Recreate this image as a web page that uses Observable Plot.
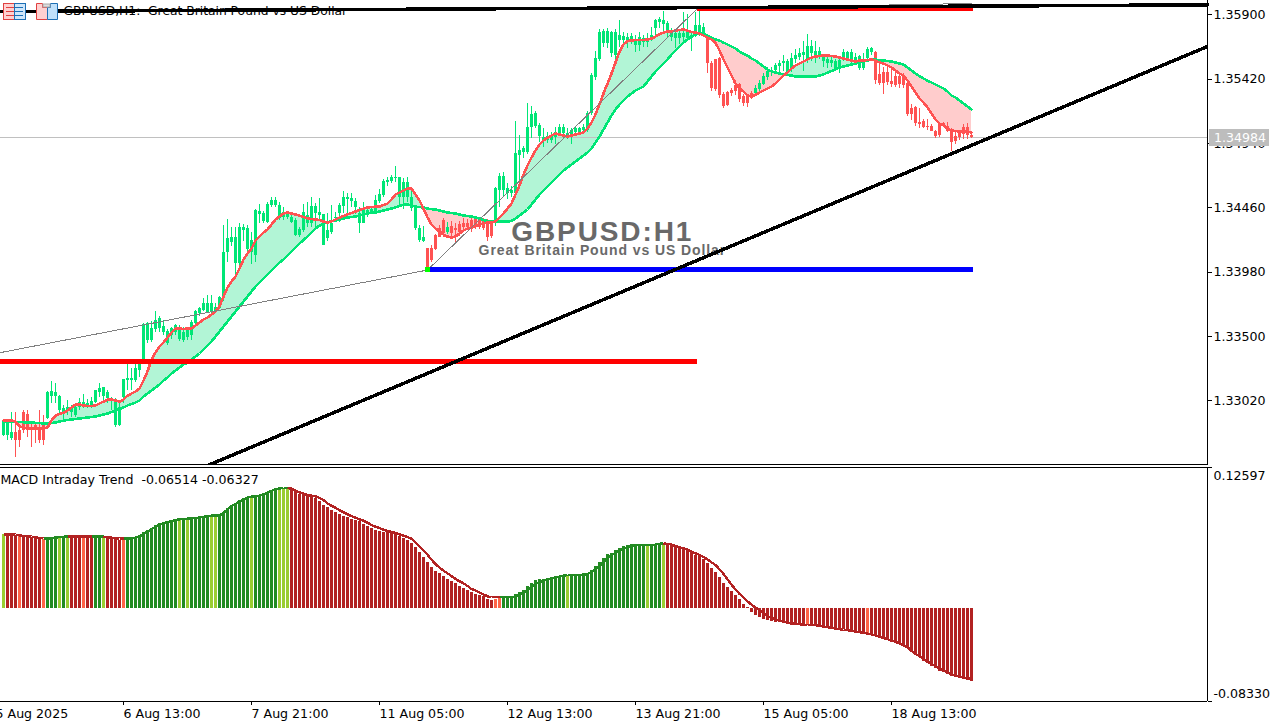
<!DOCTYPE html>
<html><head><meta charset="utf-8">
<script src="https://cdn.jsdelivr.net/npm/d3@7"></script>
<script src="https://cdn.jsdelivr.net/npm/@observablehq/plot@0.6"></script>
<style>
html,body{margin:0;padding:0;background:#fff;overflow:hidden}
#wrap{position:relative;width:1282px;height:721px}
#wrap svg{display:block;shape-rendering:crispEdges}
#wrap text{white-space:pre}
.wm1 text{letter-spacing:1.9px}
.wm2 text{letter-spacing:.9px}
#icons{position:absolute;left:0;top:0}
</style></head><body><div id="wrap"></div>
<script>
// prices are stored as pips above 1.3000
const openPips=[276,276,274,278.5,280,293,292,282,283.5,282,
286,289,305,305,295,292,295,293.5,291,297,
298,298,298.4,300.4,308.4,305.2,303.4,302.2,283.5,283.5,
304.7,317,317,317,324.6,332.5,347,347,355,355.7,
353.2,344.5,350.7,353.2,347.5,347,349.4,350.7,359.4,366.9,
369.4,368.1,368.1,368.1,370.6,379.3,412.9,420.4,404.2,404.2,
429,415,413,410.4,441,436.1,435.3,447.8,447.8,437.8,
439,439,435.3,425.4,425.4,429.1,434.6,434.6,441.6,440.3,
418,422.9,427.9,437.8,441.6,447,452.3,450.8,446.5,434.6,
434.6,441.6,442.3,442.8,450.8,455.2,465.2,465.7,468.2,454,
454,454,445.3,430.4,421.6,421,415.4,415.4,425.4,430.9,
436.6,428,432.4,430.9,433.6,434.6,434.6,436.6,437.8,437.8,
436.6,435.3,434.6,436.6,459,459,456.5,456.5,456.5,485.1,
487.6,487.6,506.3,506.8,499.3,496.3,496.3,496.3,498.8,501.3,
501.8,498.8,500,502.5,502.5,503.8,503.8,516.2,543.6,556.5,
568.5,568.5,561,559.7,571,571,570.4,570.4,567.2,567.2,
569.7,569.7,572.2,579.7,584.6,582.9,577.2,573.4,572.2,572.2,
572.9,572.2,572.2,574.7,575.9,574.7,573.4,553.5,556.5,557.3,
530.4,532.4,533.6,537.4,537.9,529.4,529.4,531.1,531.1,534.1,
538.1,543,547.3,548.6,551.5,553.5,547.3,549.8,556.5,558.5,
559.7,556,561,558.5,559.7,555.5,553.5,554,549.8,549.8,
557.3,557.3,554.8,555.5,549.8,549.8,557.3,562.2,562.2,545.6,
547.3,547.3,540.3,544,544,544.8,538.6,519.9,520.7,510,
510.5,506.8,506.8,503.3,508.2,508.7,506.8,503.3,499.3,501.3,
506.3,505.8,500];
const closePips=[286,286,278.5,272.3,272.3,279.8,281,281,280.3,272.3,
272.3,308.4,309.1,307.9,305.4,296,297.2,296,297.2,300.4,
300.9,299.7,301.4,309.6,311.4,312.1,308.4,303.4,302.2,297.2,
317.6,318.4,318.8,325.8,329,358.9,359.4,355.7,361.9,363.1,
357.4,353.7,355.7,358.2,354.4,353.2,354.4,360.6,368.6,370.6,
374.3,374.3,374.3,371.8,379.3,412.9,423,423.7,423.7,431.1,
431.1,430.4,422,444,443.6,441.6,448.5,451.5,451.5,447.8,
442.8,441.6,439,436.6,429.6,442.3,440.3,447,447,442.3,
440.8,429.1,434.1,439,447.8,454,454,452.8,450.8,441.6,
444,444,444.6,451.5,456,465.7,466.4,468.4,468.9,468.4,
465,465,454,446.5,430.4,423.7,400.5,406.7,414.7,424.2,
426.6,431,427.1,429.1,427.9,431.6,431.6,430.4,431.6,431.6,
430.4,424.2,424.6,460.2,469.4,469.4,460.2,459,486.4,488.8,
490,506.3,515.7,516.2,507.5,498.8,499.3,500,502.5,505.8,
505.8,501.3,503.8,505,505,506.3,516.2,544.8,557.3,577.2,
577.9,577.9,577.2,577.2,574.7,574,573.4,574,570.9,573.4,
572.2,572.2,574.7,585.9,586.6,585.9,583.4,575.9,575.9,575.9,
575.9,577.2,574.7,582.1,582.1,580.9,553.5,534.9,534.1,529.9,
521.7,522.4,531.1,533.1,526.9,523.7,523.7,528.6,534.9,538.6,
544,548,548,552.3,554,555.5,555.5,557.3,559.7,561,
562.2,566.5,566.5,563,563,558,556.5,556,555.3,556,
562.2,562.2,562.2,558,559,556,564,564.7,541,538.6,
538.6,539.3,538.1,537.4,537.9,537.4,515.7,515.7,508.7,508.2,
505.8,505.8,503.3,499.3,499.8,507.5,503.3,495,495.8,498.3,
500.8,500,498.4];
const highPips=[287,287,293.5,293.5,281,295,294.7,286,286,294.7,
291,309,316.4,315,306,298.4,302.2,298.4,299.7,303.4,
306.4,302.7,304.7,310,314.6,312.1,309.6,304.7,303.4,300,
318,329,325.8,329,332,359.5,360.5,361,368.6,364.9,
361.9,355,357,359,358,357,356.4,361.9,369.4,371.8,
378,380.5,380.5,374.3,379.8,432.9,437.3,431.6,431.6,434.6,
433.6,432.9,428,445,448.5,443.6,450.2,453.5,454,450.2,
446.5,443,440.3,437.8,431.6,448.5,450.2,453.5,449,452.8,
441,441.6,447.8,442.8,449,458.5,457,456.5,452.8,446.5,
450.2,447,447,455,459.7,467,469,470,476.9,469,
467.7,469,458,447,433,432,416,418,426,433,
438,435,436,434,436,438,437,438,439,439,
438,437,436,461,471.4,472.7,464,462,510.7,500,
492,523.7,521.7,518,509,505,502,502,506,508,
508,505,505,506,506,508,518,546,563,579,
579,580,578,579,585.8,577,576,576,575,577,
575,576,581,587,588,592.3,585,580,578,579,
592,590,578,592,593,584,573.4,555,557,558,
532,533,535,541,539,531,531,533,537,541,
546,551,551,554,556,560,557,561,564,565,
570,575.4,571,570,566,560,558,558,557,558,
564,563,564,561,560,561,566,566,563,555,
551,552,549,547,546,546,540,523,522,520,
512,512,508,504,509,510,510,505,503,504,
508,509,503];
const lowPips=[275,272,272.3,259.4,266.8,277.3,274.8,267.4,269.8,269.8,
268.6,288,300,299.7,292,287.2,291,289.7,289.7,294.7,
296,296,296,299.7,304.7,302.2,299.7,294.7,281.8,283,
300,310,309.6,316,319.6,329,345,345.5,353,353,
350.7,343,348,350.7,346.2,345.7,347,347,358.4,364.9,
368.6,366.9,366,366.9,370,376,405,417,393,400,
421,410,404,405,434,434,434,446,446,436.6,
436.6,437.3,434,424.6,423.7,427.6,431,431.6,431.6,436.6,
418,421,426,436.6,435,441.6,441.6,446,441,427,
434,439,441,441.6,449,454,462,464,465,447,
445,450,443,429,420,420,398,405,414,424,
424,426,425,420.4,425,428,429,428,430,430,
429,421,423,432,446.5,454,452,454,456,461,
483,486,498,505,495,491,494,493.8,493,499,
497,497,493.3,500,501,502,502,515,541,555,
566,565,558,553,566,568,565,568,562,563,
566,566,570,573,580,578,573,570,565,568,
570,570,563,573,574,573,546.5,533,533,528,
520,522,529,530,525,522,521,527,530,532,
537,541,544,546,545,548,546,547,554,556,
548,554,555,554,557,551,550,551,547.5,546,
555,556,552,553,548.5,548.5,556,560,538,537,
531,537,536,535.6,535,535,514,511,507,505,
505,504,503,498,498.5,506,502,488,493,496,
497,497,498];
const fastPips=[287.3,287.3,287.3,286.5,282.8,282,281.3,281.3,281.3,281.3,
281.3,282,287.3,291,292.1,293.2,294.7,297,299.2,299.2,
298.5,298.1,298.1,298.5,300,301.4,302.9,302.9,302.2,301.4,
302.9,305.9,307.4,308.9,311.2,317.1,323.8,332.8,338,342.5,
345.5,349.2,353,356,356,355.6,356,356,358.2,360.4,
362.7,364.2,366.4,368.6,372.4,379.8,386.6,391,394.8,400.7,
407.5,412,415.7,421.6,424.6,427.6,429.8,433.6,437.3,439.6,
441.8,442.6,441.8,441.1,440.3,439.2,438.1,437.7,437.3,437,
435.8,435.1,435.8,437.3,438.8,439.9,441.1,442.2,443.3,444.4,
445.5,446.3,446.6,447,447,448.1,449.2,452.2,456,457.5,
459,460.5,460.5,456,451.5,445.5,438.8,433.6,430.6,428.4,
426.1,424.6,423.9,424.6,426.9,429.1,430.6,431.3,432.1,433.6,
434.3,435.1,435.4,435.8,438.8,441.8,445.5,449.2,456,462.7,
470.9,477.6,483.6,488.8,493.3,496.3,498.5,500,501.5,500.8,
500,499.3,500,500.8,501.5,502.3,505.2,509.7,515.7,523.2,
531.4,538.8,546.3,554.5,562.7,568,570.6,571,571.3,571.3,
571.3,571.7,572.4,573.9,575.8,576.9,577.7,577.7,578.4,578.8,
579.2,578.4,577.3,576.9,576.2,574.7,573.2,571.7,569.4,563.5,
556.8,550.8,544.8,538.8,535.1,532.9,529.9,529.1,530.3,532.1,
533.6,535.1,536.6,538.8,541.8,544.8,547,550,552.3,553.8,
555.3,556.8,558.3,559,559.4,559.7,559.7,559.4,559,558.3,
557.5,556.8,556,555.3,556,556,556.4,556.8,556,554.5,
553.8,552.3,550.8,548.5,546.3,544.8,541,536.6,532.1,527.6,
524.7,520.9,516.4,512,509,507.5,505.2,503.8,503.4,503,
503,503,502.3];
const slowPips=[286.5,286.5,286.5,286.3,286.2,286,286,285.8,285.5,285.4,
285.1,285,285.4,285.8,286.5,287.2,287.7,288,288.4,288.8,
289.1,289.5,289.9,290.2,291,291.7,292.5,293.6,294.7,295.9,
297,298.5,299.6,300.7,302.2,305.2,307.4,309.7,311.9,314.1,
317.1,319.4,322.4,324.6,326.8,329.1,330.2,332.8,335,337.3,
340.3,343.3,346.2,350,353.7,357.4,361.2,364.9,368.6,372.4,
376.1,379.8,383.6,387.3,390.3,393.3,396.3,399.2,402.2,405.2,
407.5,410.4,413.4,416.4,419.4,422,424.6,427.6,430.6,432.8,
434.3,435.1,436.2,436.6,437.3,438.1,438.8,439.2,439.6,440.3,
441.1,441.8,442.6,442.6,443.3,444,444.8,445.5,446.3,447.4,
448.5,448.5,447.8,447,446.6,446.3,445.5,445.1,444.8,444,
443.3,442.6,442.2,441.8,441.1,440.3,439.9,439.6,438.8,438.1,
437,436.2,435.8,435.8,435.8,435.8,435.8,436.2,438.1,440.3,
442.6,444.8,448.5,452.2,456,459,462,465,467.9,470.9,
473.9,476.1,478.4,480.6,482.9,485.1,487.3,490.3,494.8,499.3,
504.5,509.7,515,519.4,523.2,526.2,529.1,531.4,533.6,535.1,
536.6,540.3,544.1,547.8,550.8,553.8,556.8,560.5,563.5,566.5,
569.4,571.7,573.9,575.4,576.2,575.8,574.7,573.2,571.7,571,
569.4,568,566.5,565,562.7,561.2,559.7,557.5,556,553.8,
551.5,549.3,547.8,547,546.3,545.6,545.2,544.8,544.1,544.1,
544.1,544.1,544.1,544.1,544.8,545.6,547,548.2,549.3,550.8,
551.5,552.3,553,553.8,554.5,555.3,556,556.8,556.8,556,
556,555.6,555.3,554.5,553.8,553,550.8,548.5,546.3,544.4,
542.6,541,539.6,538.1,536.6,535.1,532.9,529.9,528.4,526.2,
523.9,521.7,519.4];
// MACD histogram and signal, in thousandths
const macdValues=[65.9,65.9,65.9,65,64.1,64.1,64.1,63.2,62.6,62,
62,62.6,63.2,64.1,64.4,64.1,64.1,64.1,64.1,64.1,
64.1,64.1,64.1,64.1,64.1,64.1,63.5,62.6,61.4,61.1,
62.3,62.9,62.9,63.8,65,68,69.5,71.6,74,75.7,
76.3,77.5,78.4,79.3,79.9,79.9,79.9,80.8,80.8,81.4,
82,82.9,82.9,82.9,82.9,85.9,89.5,92.4,93.3,96.3,
97.8,99.3,99.9,98.7,100.8,102.3,103.8,105.5,106.7,107.3,
107.3,107.3,106.1,104.4,101.4,100.8,100.2,99.6,97.8,95.4,
92.4,90.4,87.3,85.6,83.7,82.4,81,79.7,78.4,77.5,
75.4,73,71,69.5,68.6,68,67.7,67.1,66.5,64.1,
62.9,60.5,58.1,54.6,50.1,45.6,41.2,36.7,33.1,31.3,
28.3,25.7,23.9,21.8,19.7,17.9,15.8,14.3,12.8,11.6,
10.5,8.1,7.2,8.1,9,9.9,9.9,9.9,12.2,14,
15.8,19.4,21.8,24.8,25.7,26.2,27.1,27.1,27.7,28.6,
29.8,29.8,29.8,29.8,29.8,30.7,30.7,33.7,37.3,40.9,
44.4,48,49.5,51.6,53.1,55.2,56.1,56.9,56.9,57.5,
57.2,56.9,56.9,56.9,58.1,58.1,57.6,56.4,55.2,54,
52.2,51,49.2,47.7,46.3,43.3,40.3,35.8,32.2,27.8,
22.4,18.8,15.3,11.4,7.5,3.3,0.4,-3.5,-6.5,-8.6,
-10.4,-11,-11.6,-12.5,-12.5,-13.3,-13.9,-15.4,-15.4,-15.4,
-14.8,-14.8,-14.8,-14.8,-15.4,-16.9,-17.5,-17.8,-19,-19.9,
-19.3,-19.9,-20.8,-21.7,-22.9,-22.9,-22.3,-22.9,-24.4,-25.9,
-26.8,-28.2,-30.3,-31.8,-32.4,-33.3,-35.4,-39.3,-42.3,-44.3,
-47.3,-49.7,-52.1,-54.2,-56.3,-57.7,-59.2,-60.7,-61.6,-62.5,
-63.7,-64.6,-65.14];
const signalValues=[66.2,66.2,66.2,65.9,65.3,64.7,64.4,64.1,63.5,63,
62.6,62.6,62.6,63.2,63.8,64.1,64.1,64.1,64.1,64.1,
64.1,64.1,64.1,64.1,64.1,64.1,63.8,63.2,62.6,62.3,
62.3,62.3,62.6,63.2,64.4,66.5,68.6,70.7,73,74.9,
76,77.2,78.1,79,79.6,79.9,80.2,80.5,80.8,81.2,
81.8,82.6,82.9,83,83.2,85.3,88.5,91.5,93,95.5,
97.5,99,99.9,100,100.8,102,103.5,105,106.5,107.3,
107.5,107.5,107,105.2,103.8,102.6,101.4,100.8,100.2,98.7,
96.9,93.9,91.8,90,87.8,86,84.2,82.4,81.1,79.7,
78.4,76.6,74.5,73,71.8,70.4,69.2,68.3,67.4,66.2,
65,63.8,62.3,59,55.2,51.6,48,43.5,39.7,36.4,
33.7,31.3,28.9,26.3,24.2,22.4,20,17.3,16.1,14.3,
12.5,10.8,9.9,9.9,9.9,9.9,9.9,9.9,10.5,12.2,
14,16.4,19.4,21.8,23.6,24.8,26,26.8,27.7,28.3,
29.2,29.8,29.8,29.8,29.8,30.2,30.7,32.5,34.9,37.9,
41.4,45,47.4,49.8,51.6,53.4,54.6,55.8,56.3,56.9,
56.9,56.9,56.9,56.9,57.8,58.1,57.6,57,55.8,54.6,
53.7,52.5,50.7,49.2,47.7,46,43.6,41.2,38.8,34.9,
30.8,26,21.2,17,12.9,9.9,6.3,3.3,0.7,-1.7,
-4.4,-6.8,-8.6,-9.8,-11,-11.9,-12.7,-13.3,-13.9,-14.2,
-14.5,-14.8,-14.8,-15.1,-15.7,-16.3,-16.9,-17.5,-18.1,-18.7,
-19,-19.6,-20.2,-20.8,-21.4,-22,-22.6,-23.2,-24.1,-25.3,
-26.5,-27.6,-28.8,-30,-31.5,-33,-34.8,-37.8,-40.5,-42.8,
-45.2,-47.6,-49.7,-51.8,-53.9,-55.7,-57.4,-58.9,-60.1,-61,
-61.9,-62.5,-63.27];
const macdStateRuns=[["Y",1],["R",3],["T",1],["R",5],["T",1],["G",3],["Y",1],["G",1],["Y",1],["R",3],["T",1],["R",2],["G",2],["Y",1],["R",4],["T",1],
["G",13],["Y",1],["G",1],["Y",1],["G",5],["Y",2],["G",8],["Y",1],["G",6],["Y",3],["R",51],["T",2],["G",16],["Y",1],["G",19],["Y",1],["G",3],["Y",1],
["R",35],["T",1],["R",14],["T",1],["R",26]];
const stateColors={G:"#228B22",Y:"#9ACD32",R:"#B22222",T:"#FF6347"};
const lineColors={G:"#228B22",Y:"#228B22",R:"#B22222",T:"#B22222"};
const priceTicks=[1.359,1.3542,1.3494,1.3446,1.3398,1.335,1.3302];
const macdTicks=[0.12597,-0.0833];
const lastPrice=1.34984;
const timeTickBars=[-2,30,62,94,126,158,190,222];
const timeTickLabels=["5 Aug 2025","6 Aug 13:00","7 Aug 21:00","11 Aug 05:00","12 Aug 13:00","13 Aug 21:00","15 Aug 05:00","18 Aug 13:00"];
const topTrendBars=[-0.75,301], topTrendPrices=[1.35926,1.35976];
const lowTrendBars=[50.4,301], lowTrendPrices=[1.32529,1.35665];
const zigzagBars=[-0.75,106,173.5,242], zigzagPrices=[1.3338,1.33996,1.35948,1.35986];

const states=macdStateRuns.flatMap(([s,n])=>Array(n).fill(s));
const price=v=>1.3+v/1e4;
const bars=d3.range(243).map(i=>({i,open:price(openPips[i]),close:price(closePips[i]),high:price(highPips[i]),low:price(lowPips[i]),
  fast:price(fastPips[i]),slow:price(slowPips[i]),macd:macdValues[i]/1000,signal:signalValues[i]/1000,state:states[i]}));
const links=bars.slice(0,-1).map((d,k)=>({x1:d.i,x2:d.i+1,y1:d.signal,y2:bars[k+1].signal,state:bars[k+1].state}));

const UP="#00E676",DOWN="#FF5252",FONT="DejaVu Sans",FS="12.6px";
const xDomain=[-0.75,301];
const lineOf=(xs,ys)=>xs.map((x,k)=>({x,y:ys[k]}));

const pricePlot=Plot.plot({
  width:1282,height:465,marginLeft:0,marginRight:75,marginTop:0,marginBottom:0,
  style:{fontFamily:FONT,fontSize:FS,color:"#000",background:"#fff"},
  x:{domain:xDomain,axis:null},
  y:{domain:[1.32537,1.360082],axis:null},
  marks:[
    Plot.areaY(bars,{x:"i",y1:"slow",y2:d=>Math.max(d.fast,d.slow),fill:"#B2F5D6"}),
    Plot.areaY(bars,{x:"i",y1:"slow",y2:d=>Math.min(d.fast,d.slow),fill:"#FFCCCC"}),
    Plot.ruleY([lastPrice],{stroke:"#c0c0c0"}),
    Plot.ruleX(bars,{x:"i",y1:"low",y2:"high",stroke:d=>d.close>=d.open?UP:DOWN,strokeWidth:1}),
    Plot.ruleX(bars,{x:"i",y1:"open",y2:"close",stroke:d=>d.close>=d.open?UP:DOWN,strokeWidth:3}),
    Plot.line(bars,{x:"i",y:"slow",stroke:UP,strokeWidth:2.6}),
    Plot.line(bars,{x:"i",y:"fast",stroke:DOWN,strokeWidth:2.6}),
    Plot.line(lineOf(zigzagBars,zigzagPrices),{x:"x",y:"y",stroke:"#808080",strokeWidth:1}),
    Plot.text(["GBPUSD:H1"],{x:()=>149.7,y:()=>1.34282,fontSize:28,fontWeight:"bold",fontFamily:"Liberation Sans",fill:"#696969",className:"wm1"}),
    Plot.text(["Great Britain Pound vs US Dollar"],{x:()=>149.7,y:()=>1.34142,fontSize:14,fontWeight:"bold",fontFamily:"Liberation Sans",fill:"#696969",className:"wm2"}),
    Plot.ruleY([1.33313],{x1:-0.75,x2:173.5,stroke:"#FF0000",strokeWidth:5}),
    Plot.ruleY([1.33998],{x1:106,x2:242.5,stroke:"#0000FF",strokeWidth:5}),
    Plot.ruleY([1.35948],{x1:173.5,x2:242.5,stroke:"#FF0000",strokeWidth:5}),
    Plot.dot([0],{x:()=>106,y:()=>1.33998,symbol:"square",r:2.6,fill:"#00FF00"}),
    Plot.text(["GBPUSD,H1:  Great Britain Pound vs US Dollar"],{frameAnchor:"top-left",dx:63,dy:6,textAnchor:"start",fill:"#000",fontSize:12.3}),
    Plot.line(lineOf(topTrendBars,topTrendPrices),{x:"x",y:"y",stroke:"#000",strokeWidth:3.5}),
    Plot.line(lineOf(lowTrendBars,lowTrendPrices),{x:"x",y:"y",stroke:"#000",strokeWidth:3.5,clip:true}),
    Plot.ruleY([1.325371],{stroke:"#000",dy:-0.5}),
    Plot.ruleX([301],{stroke:"#000"}),
    Plot.axisY(priceTicks,{anchor:"right",tickSize:4,tickPadding:2,tickFormat:d=>d.toFixed(5),label:null,stroke:"#000",fill:"#000"}),
    Plot.ruleY([lastPrice],{x1:301.6,x2:316.5,stroke:"#BDBDBD",strokeWidth:17}),
    Plot.text(["1.34984"],{x:()=>301.6,y:()=>lastPrice,dx:4,textAnchor:"start",fill:"#fff"})
  ]
});

const macdPlot=Plot.plot({
  width:1282,height:256,marginLeft:0,marginRight:75,marginTop:2,marginBottom:20,
  style:{fontFamily:FONT,fontSize:FS,color:"#000",background:"#fff"},
  x:{domain:xDomain,axis:null},
  y:{domain:[-0.0833,0.12597],axis:null},
  marks:[
    Plot.ruleX(bars,{x:"i",y1:0,y2:"macd",stroke:d=>stateColors[d.state],strokeWidth:3}),
    Plot.link(links,{x1:"x1",x2:"x2",y1:"y1",y2:"y2",stroke:d=>lineColors[d.state],strokeWidth:2.4}),
    Plot.text(["MACD Intraday Trend  -0.06514 -0.06327"],{frameAnchor:"top-left",dx:0,dy:7.5,textAnchor:"start",fill:"#000"}),
    Plot.ruleY([0.12597,-0.0833],{stroke:"#000"}),
    Plot.ruleX([301],{y1:-0.0833,y2:0.12597,stroke:"#000"}),
    Plot.axisY(macdTicks,{anchor:"right",tickSize:4,text:null,label:null,stroke:"#000"}),
    Plot.text([0.12597],{x:()=>301,y:d=>d,text:d=>d.toFixed(5),dx:6,dy:8,textAnchor:"start",fill:"#000"}),
    Plot.text([-0.0833],{x:()=>301,y:d=>d,text:d=>d.toFixed(5),dx:6,dy:-8,textAnchor:"start",fill:"#000"}),
    Plot.axisX(timeTickBars,{anchor:"bottom",tickSize:4,tickPadding:4,tickFormat:d=>timeTickLabels[timeTickBars.indexOf(d)],textAnchor:"start",label:null,stroke:"#000",fill:"#000"})
  ]
});

const wrap=document.getElementById("wrap");
wrap.append(pricePlot,macdPlot);
wrap.insertAdjacentHTML("beforeend",`<svg id="icons" width="62" height="22" style="shape-rendering:auto">
<rect x="3.5" y="3.5" width="11" height="16" fill="#ffd0d0" stroke="#e04040"/>
<rect x="14.5" y="3.5" width="11" height="16" fill="#cfe6fa" stroke="#1c6fb5"/>
<path d="M6 7.5h8M6 11.5h8M6 15.5h8" stroke="#e04040"/><path d="M15 7.5h8M15 11.5h8M15 15.5h8" stroke="#1c6fb5"/>
<path d="M36.500 3.500h6v4h5v12h-11z" fill="#ffd0d0" stroke="#e04040"/>
<path d="M47.500 7.500h3v-4h7v16h-10z" fill="#bfe0fa" stroke="#1c6fb5"/>
<rect x="43" y="4" width="7" height="3" fill="#ddd" stroke="#aaa"/></svg>`);
</script></body></html>
